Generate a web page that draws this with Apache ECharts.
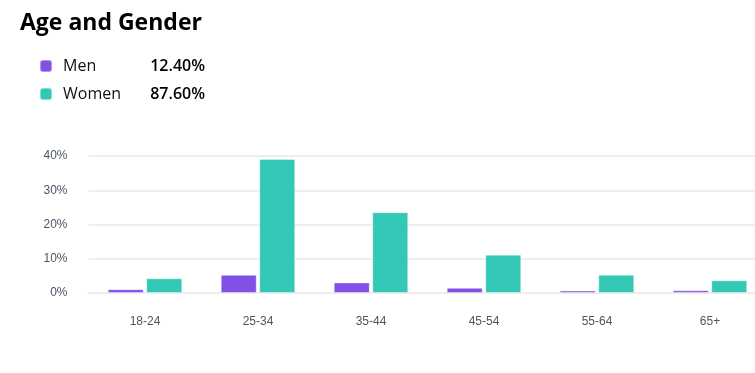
<!DOCTYPE html>
<html>
<head>
<meta charset="utf-8">
<script src="https://cdn.jsdelivr.net/npm/echarts@6/dist/echarts.min.js"></script>
<style>html,body{margin:0;padding:0;background:#fff}#c{width:755px;height:373px}</style>
</head>
<body>
<div id="c"></div>
<script>
var categories = ['18-24', '25-34', '35-44', '45-54', '55-64', '65+'];
var men = [1.1, 5.3, 3.1, 1.5, 0.7, 0.8];
var women = [4.3, 39.1, 23.6, 11.2, 5.3, 3.7];
var seriesNames = ['Men', 'Women'];
var totals = ['12.40%', '87.60%'];
var yTicks = [0, 10, 20, 30, 40];

var chart = echarts.init(document.getElementById('c'));
var colors = ['#8150E6', '#32C8B5'];
chart.setOption({
  animation: false,
  color: colors,
  title: {
    text: 'Age and Gender',
    left: 15, top: 7,
    textStyle: { fontFamily: 'Open Sans', fontWeight: 'bold', fontSize: 23, color: '#000' }
  },
  legend: {
    orient: 'vertical',
    left: 39, top: 58,
    padding: 0,
    itemWidth: 12, itemHeight: 12,
    itemGap: 12,
    icon: 'roundRect',
    data: seriesNames,
    formatter: function (name) {
      var i = seriesNames.indexOf(name);
      return '{n|' + name + '}{v|' + totals[i] + '}';
    },
    textStyle: {
      rich: {
        n: { fontFamily: 'Open Sans', fontSize: 16, color: '#111', width: 84, lineHeight: 20, padding: [0, 0, 0, 6] },
        v: { fontFamily: 'Open Sans', fontSize: 16, fontWeight: 600, color: '#000', width: 58, align: 'right', lineHeight: 20 }
      }
    }
  },
  grid: { left: 88.5, width: 678, top: 156, bottom: 80, containLabel: false, outerBoundsMode: 'none' },
  xAxis: {
    type: 'category',
    data: categories,
    axisLine: { show: true, lineStyle: { color: '#eeeeee', width: 2 } },
    axisTick: { show: false },
    axisLabel: { margin: 23, fontFamily: 'Liberation Sans', fontSize: 12, color: '#4b5563' }
  },
  yAxis: {
    type: 'value',
    min: yTicks[0], max: yTicks[yTicks.length - 1], interval: 10,
    axisLine: { show: false },
    axisTick: { show: false },
    splitLine: { lineStyle: { color: '#eeeeee', width: 2 } },
    axisLabel: { margin: 21, fontFamily: 'Liberation Sans', fontSize: 12, color: '#4b5563', formatter: '{value}%' }
  },
  series: [
    { name: seriesNames[0], type: 'bar', data: men, barWidth: 36, barGap: '7%',
      itemStyle: { borderColor: 'rgba(255,255,255,0.4)', borderWidth: 1 } },
    { name: seriesNames[1], type: 'bar', data: women, barWidth: 36,
      itemStyle: { borderColor: 'rgba(255,255,255,0.4)', borderWidth: 1 } }
  ]
});
</script>
</body>
</html>
